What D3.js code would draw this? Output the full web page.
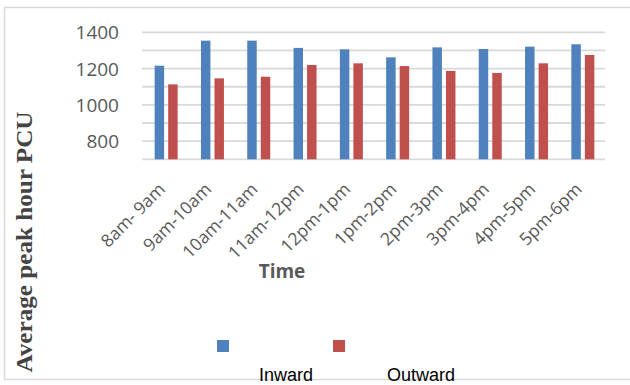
<!DOCTYPE html>
<html>
<head>
<meta charset="utf-8">
<script src="https://cdn.jsdelivr.net/npm/d3@7"></script>
<style>
  html, body { margin: 0; padding: 0; background: #fff; }
  svg { display: block; }
</style>
</head>
<body>
<svg id="chart" width="630" height="385"></svg>
<script>
const categories = ["8am- 9am","9am-10am","10am-11am","11am-12pm","12pm-1pm","1pm-2pm","2pm-3pm","3pm-4pm","4pm-5pm","5pm-6pm"];
const seriesNames = ["Inward","Outward"];
const inward  = [1216,1354,1354,1314,1306,1262,1317,1308,1321,1334];
const outward = [1113,1146,1155,1220,1229,1214,1187,1176,1229,1275];
const yTickLabels = [800,1000,1200,1400];
const yGridValues = [700,800,900,1000,1100,1200,1300,1400];
const colors = ["#4F81BD","#C0504D"];

const svg = d3.select("#chart");
const labelFont = "'Open Sans', sans-serif";
const gray = "#595959";

// outer frame (light gray)
svg.append("path")
  .attr("d", "M630,7.5 H4.5 V379.5 H630")
  .attr("fill", "none").attr("stroke", "#d9d9d9").attr("stroke-width", 1.5);

const x0 = d3.scaleBand().domain(categories).range([142, 605]);
const half = x0.bandwidth() / 2;
const x1 = d3.scaleBand().domain(seriesNames).range([half - 10.5, half + 12.5]).paddingInner(0.3);
const y = d3.scaleLinear().domain([700, 1400]).range([159.3, 32.3]);

// gridlines
svg.append("g").selectAll("line").data(yGridValues).join("line")
  .attr("x1", 142).attr("x2", 605)
  .attr("y1", d => y(d)).attr("y2", d => y(d))
  .attr("stroke", "#d9d9d9").attr("stroke-width", 1.8);

// y labels
const yAxis = d3.axisLeft(y).tickValues(yTickLabels).tickFormat(d3.format("d")).tickSize(0).tickPadding(0);
const yg = svg.append("g").attr("transform", "translate(119,0)").call(yAxis);
yg.select(".domain").remove();
yg.selectAll("text").attr("font-family", labelFont).attr("font-size", 19)
  .attr("fill", gray).attr("dy", "0.35em");

// bars
const rows = categories.map((c, i) => ({cat: c, vals: [inward[i], outward[i]]}));
const groups = svg.append("g").selectAll("g").data(rows).join("g")
  .attr("transform", d => `translate(${x0(d.cat)},0)`);
groups.selectAll("rect").data(d => d.vals.map((v, j) => ({s: seriesNames[j], v, j})))
  .join("rect")
  .attr("x", d => x1(d.s))
  .attr("width", x1.bandwidth())
  .attr("y", d => y(d.v))
  .attr("height", d => y(700) - y(d.v))
  .attr("fill", d => colors[d.j]);

// x labels
const xAxis = d3.axisBottom(x0).tickSize(0).tickPadding(0);
const xg = svg.append("g").attr("transform", "translate(0,159.3)").call(xAxis);
xg.select(".domain").remove();
xg.selectAll("text")
  .attr("font-family", labelFont).attr("font-size", 17.5).attr("fill", gray)
  .attr("text-anchor", "end")
  .attr("y", 0).attr("dy", 0)
  .attr("transform", "translate(1,31) rotate(-45)");

// x title
svg.append("text").attr("x", 282).attr("y", 278)
  .attr("text-anchor", "middle")
  .attr("font-family", labelFont).attr("font-size", 19).attr("font-weight", "bold")
  .attr("fill", gray).text("Time");

// y title
svg.append("text")
  .attr("transform", "translate(32,242) rotate(-90)")
  .attr("text-anchor", "middle")
  .attr("font-family", "'Liberation Serif', 'Times New Roman', serif")
  .attr("font-size", 24).attr("font-weight", "bold")
  .attr("fill", "#444")
  .attr("textLength", 261).attr("lengthAdjust", "spacingAndGlyphs")
  .text("Average peak hour PCU");

// legend
const legendSquares = [217, 333];
const legendTexts = [259, 387];
const lg = svg.append("g");
lg.selectAll("rect").data(seriesNames).join("rect")
  .attr("x", (d, i) => legendSquares[i]).attr("y", 340)
  .attr("width", 12).attr("height", 12)
  .attr("fill", (d, i) => colors[i]);
lg.selectAll("text").data(seriesNames).join("text")
  .attr("x", (d, i) => legendTexts[i]).attr("y", 381)
  .attr("font-family", "'Liberation Sans', Arial, sans-serif")
  .attr("font-size", 18).attr("fill", "#000")
  .text(d => d);
</script>
</body>
</html>
